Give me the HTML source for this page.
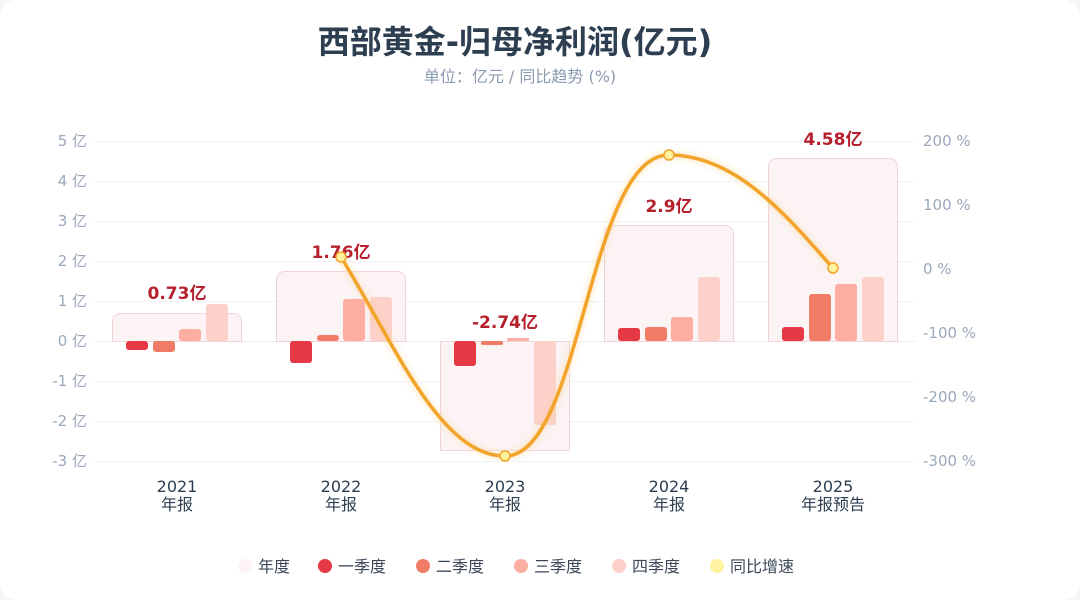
<!DOCTYPE html>
<html><head><meta charset="utf-8"><style>
html,body{margin:0;padding:0;background:#f4f5f7;}
.card{position:absolute;left:0;top:0;width:1080px;height:600px;background:#fff;border-radius:16px;overflow:hidden;}
svg text{font-family:"DejaVu Sans","Noto Sans CJK SC",sans-serif;}
</style></head><body><div class="card">
<svg width="1080" height="600" viewBox="0 0 1080 600" xmlns="http://www.w3.org/2000/svg">
<defs><filter id="gl" x="-10%" y="-10%" width="120%" height="120%"><feGaussianBlur stdDeviation="3"/></filter></defs>
<text x="515" y="53" text-anchor="middle" font-size="32" font-weight="bold" fill="#2c3e50">西部黄金-归母净利润(亿元)</text>
<text x="520" y="82" text-anchor="middle" font-size="16" fill="#8a9bb0">单位：亿元 / 同比趋势 (%)</text>
<g stroke="#f0f1f4" stroke-width="1">
<line x1="95" x2="915" y1="141.5" y2="141.5"/><line x1="95" x2="915" y1="181.5" y2="181.5"/><line x1="95" x2="915" y1="221.5" y2="221.5"/><line x1="95" x2="915" y1="261.5" y2="261.5"/><line x1="95" x2="915" y1="301.5" y2="301.5"/><line x1="95" x2="915" y1="341.5" y2="341.5" stroke="#eceef2"/><line x1="95" x2="915" y1="381.5" y2="381.5"/><line x1="95" x2="915" y1="421.5" y2="421.5"/><line x1="95" x2="915" y1="461.5" y2="461.5"/>
</g>
<g font-size="15" fill="#9aa8bb" text-anchor="end">
<text x="87" y="146">5 亿</text><text x="87" y="186">4 亿</text><text x="87" y="226">3 亿</text><text x="87" y="266">2 亿</text><text x="87" y="306">1 亿</text><text x="87" y="346">0 亿</text><text x="87" y="386">-1 亿</text><text x="87" y="426">-2 亿</text><text x="87" y="466">-3 亿</text>
</g>
<g font-size="15" fill="#9aa8bb">
<text x="923" y="146">200 %</text><text x="923" y="210">100 %</text><text x="923" y="274">0 %</text><text x="923" y="338">-100 %</text><text x="923" y="402">-200 %</text><text x="923" y="466">-300 %</text>
</g>
<g fill="#fbf3f4" stroke="#f2d4d8" stroke-width="1">
<path d="M112.5,341.5V321.5a8,8 0 0 1 8,-8H233.5a8,8 0 0 1 8,8V341.5Z"/>
<path d="M276.5,341.5V279.5a8,8 0 0 1 8,-8H397.5a8,8 0 0 1 8,8V341.5Z"/>
<rect x="440.5" y="341.5" width="129" height="109"/>
<path d="M604.5,341.5V233.5a8,8 0 0 1 8,-8H725.5a8,8 0 0 1 8,8V341.5Z"/>
<path d="M768.5,341.5V166.5a8,8 0 0 1 8,-8H889.5a8,8 0 0 1 8,8V341.5Z"/>
</g>
<g>
<rect x="126" y="341" width="22" height="9" rx="3" fill="#e63946"/>
<rect x="153" y="341" width="22" height="11" rx="3" fill="#f07b67"/>
<rect x="179" y="329" width="22" height="12" rx="3" fill="#fcaea2"/>
<rect x="206" y="304" width="22" height="37" rx="3" fill="#fdd0ca"/>
<rect x="290" y="341" width="22" height="22" rx="3" fill="#e63946"/>
<rect x="317" y="335" width="22" height="6" rx="3" fill="#f07b67"/>
<rect x="343" y="299" width="22" height="42" rx="3" fill="#fcaea2"/>
<rect x="370" y="297" width="22" height="44" rx="3" fill="#fdd0ca"/>
<rect x="454" y="341" width="22" height="25" rx="3" fill="#e63946"/>
<rect x="481" y="341" width="22" height="4" rx="2" fill="#f07b67"/>
<rect x="507" y="338" width="22" height="3" rx="1.5" fill="#fcaea2"/>
<rect x="534" y="341" width="22" height="84" rx="3" fill="#fdd0ca"/>
<rect x="618" y="328" width="22" height="13" rx="3" fill="#e63946"/>
<rect x="645" y="327" width="22" height="14" rx="3" fill="#f07b67"/>
<rect x="671" y="317" width="22" height="24" rx="3" fill="#fcaea2"/>
<rect x="698" y="277" width="22" height="64" rx="3" fill="#fdd0ca"/>
<rect x="782" y="327" width="22" height="14" rx="3" fill="#e63946"/>
<rect x="809" y="294" width="22" height="47" rx="3" fill="#f07b67"/>
<rect x="835" y="284" width="22" height="57" rx="3" fill="#fcaea2"/>
<rect x="862" y="277" width="22" height="64" rx="3" fill="#fdd0ca"/>
</g>
<g font-size="17" font-weight="bold" fill="#b5202c" text-anchor="middle">
<text x="177" y="299">0.73亿</text><text x="341" y="258">1.76亿</text><text x="505" y="328">-2.74亿</text><text x="669" y="212">2.9亿</text><text x="833" y="145">4.58亿</text>
</g>
<path d="M341,257 C395,345 440,456 505,456 C582,456 588,155 669,155 C738,155 790,220 833,268" fill="none" stroke="#fbd38d" stroke-width="6" opacity="0.5" filter="url(#gl)"/>
<path d="M341,257 C395,345 440,456 505,456 C582,456 588,155 669,155 C738,155 790,220 833,268" fill="none" stroke="#f2a32a" stroke-width="3.5"/>
<g fill="#fff3a0" stroke="#f2a32a" stroke-width="1.5">
<circle cx="341" cy="257" r="5"/><circle cx="505" cy="456" r="5"/><circle cx="669" cy="155" r="5"/><circle cx="833" cy="268" r="5"/>
</g>
<g font-size="16" fill="#2c3e50" text-anchor="middle">
<text x="177" y="492">2021</text><text x="177" y="510">年报</text>
<text x="341" y="492">2022</text><text x="341" y="510">年报</text>
<text x="505" y="492">2023</text><text x="505" y="510">年报</text>
<text x="669" y="492">2024</text><text x="669" y="510">年报</text>
<text x="833" y="492">2025</text><text x="833" y="510">年报预告</text>
</g>
<g font-size="16" fill="#3c4858">
<circle cx="245" cy="566" r="7" fill="#fbf3f4"/><text x="258" y="572">年度</text>
<circle cx="325" cy="566" r="7" fill="#e63946"/><text x="338" y="572">一季度</text>
<circle cx="423" cy="566" r="7" fill="#f07b67"/><text x="436" y="572">二季度</text>
<circle cx="521" cy="566" r="7" fill="#fcaea2"/><text x="534" y="572">三季度</text>
<circle cx="619" cy="566" r="7" fill="#fdd0ca"/><text x="632" y="572">四季度</text>
<circle cx="717" cy="566" r="7" fill="#fff3a0"/><text x="730" y="572">同比增速</text>
</g>
</svg></div></body></html>
